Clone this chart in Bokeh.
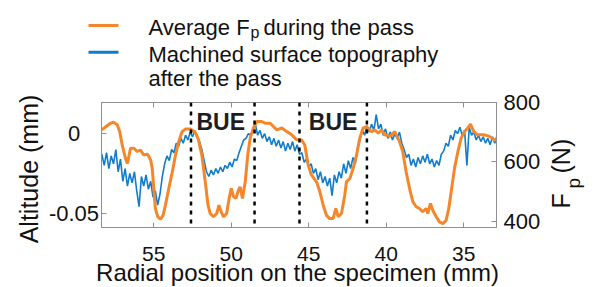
import math
import numpy as np
from bokeh.plotting import figure
from bokeh.layouts import column, row
from bokeh.models import Range1d, LinearAxis, FixedTicker, Span, Label
from bokeh.embed import file_html
from bokeh.resources import INLINE

# ---------------- data ----------------
# machined surface topography (altitude, mm), sampled every 0.15 mm from 58.35 mm
blue_start = 58.35
blue_step = 0.15
blue_alt = [-0.013, -0.020, -0.012, -0.022, -0.014, -0.019, -0.010, -0.024, -0.016, -0.030,
            -0.022, -0.033, -0.025, -0.031, -0.024, -0.036, -0.046, -0.027, -0.033, -0.026,
            -0.035, -0.030, -0.040, -0.036, -0.045, -0.038, -0.027, -0.019, -0.014, -0.017,
            -0.010, -0.012, -0.006, -0.008, -0.003, -0.006, -0.001, -0.004, 0.001, -0.002,
            0.002, -0.002, -0.005, -0.010, -0.017, -0.024, -0.027, -0.023, -0.026, -0.022,
            -0.025, -0.021, -0.024, -0.020, -0.022, -0.018, -0.021, -0.016, -0.017, -0.012,
            -0.008, -0.004, -0.003, 0.000, -0.001, 0.003, 0.006, -0.001, 0.002, -0.003,
            0.000, -0.005, -0.002, -0.007, -0.003, -0.008, -0.004, -0.009, -0.005, -0.011,
            -0.006, -0.010, -0.005, -0.011, -0.007, -0.013, -0.012, -0.018, -0.016, -0.021,
            -0.019, -0.025, -0.022, -0.029, -0.024, -0.031, -0.027, -0.033, -0.028, -0.039,
            -0.026, -0.031, -0.024, -0.028, -0.019, -0.025, -0.017, -0.022, -0.015, -0.019,
            -0.009, -0.004, 0.002, -0.001, 0.005, 0.001, 0.006, 0.002, 0.012, 0.003,
            0.006, -0.001, 0.003, -0.003, 0.001, -0.004, 0.000, -0.003, 0.001, -0.006,
            -0.010, -0.015, -0.013, -0.020, -0.016, -0.021, -0.015, -0.019, -0.014, -0.018,
            -0.013, -0.019, -0.016, -0.021, -0.017, -0.020, -0.013, -0.011, -0.006, -0.008,
            -0.001, -0.004, 0.002, 0.000, 0.004, -0.001, 0.002, -0.020, 0.004, -0.001,
            0.001, -0.004, -0.001, -0.005, -0.002, -0.006, -0.003, -0.007, -0.002, -0.006,
            -0.001]
blue_pos = np.round(blue_start - blue_step * np.arange(len(blue_alt)), 3)

# average Fp during the pass (N)
fp_pos = [58.37, 58.2, 57.8, 57.6, 57.36, 57.2, 57.04, 56.83, 56.7, 56.5, 56.28, 56.07, 55.86,
          55.65, 55.4, 55.2, 55.1, 55.0, 54.9, 54.74, 54.57, 54.4, 54.25, 54.03, 53.8, 53.6,
          53.39, 53.17, 52.95, 52.63, 52.3, 52.12, 51.9, 51.68, 51.5, 51.36, 51.15, 50.94,
          50.8, 50.65, 50.5, 50.3, 50.14, 50.0, 49.86, 49.7, 49.54, 49.43, 49.28, 49.1, 48.94,
          48.78, 48.57, 48.35, 48.03, 47.8, 47.49, 47.28, 47.06, 46.74, 46.42, 46.1, 45.79,
          45.47, 45.26, 45.04, 44.83, 44.5, 44.29, 44.07, 43.86, 43.65, 43.43, 43.26, 43.1,
          42.89, 42.68, 42.57, 42.35, 42.14, 41.92, 41.71, 41.5, 41.28, 40.95, 40.74, 40.52,
          40.3, 40.1, 39.77, 39.45, 39.15, 38.94, 38.72, 38.5, 38.29, 38.07, 37.86, 37.65,
          37.43, 37.32, 37.15, 37.0, 36.78, 36.57, 36.35, 36.14, 35.97, 35.81, 35.6, 35.38,
          35.17, 34.95, 34.74, 34.57, 34.35, 34.1, 33.67, 33.34, 33.02, 32.9]
fp_force = [708, 714, 730, 734, 725, 702, 657, 612, 595, 646, 646, 635, 640,
            623, 626, 606, 578, 511, 443, 415, 407, 420, 454, 511, 567, 623,
            669, 702, 711, 711, 697, 675, 623, 533, 454, 426, 415, 426,
            454, 432, 415, 426, 477, 511, 483, 477, 505, 516, 477, 533, 623,
            680, 714, 736, 736, 730, 730, 719, 708, 714, 702, 691, 675,
            674, 657, 590, 556, 533, 500, 454, 420, 409, 409, 443, 415,
            426, 488, 533, 544, 578, 623, 680, 714, 719, 702, 708, 697,
            708, 691, 686, 702, 669, 635, 567, 511, 466, 449, 443, 432,
            443, 426, 460, 437, 415, 398, 392, 403, 443, 500, 578, 635,
            680, 702, 714, 727, 702, 691, 691, 686, 674, 674]

bue_bounds = [52.6, 48.5, 45.6, 41.25]
bue_label_pos = [52.25, 45.0]
bue_text = "BUE"

x_ticks = [55, 50, 45, 40, 35]
x_tick_labels = ["55", "50", "45", "40", "35"]
left_ticks = [-0.05, 0]
left_tick_labels = ["-0.05", "0"]
right_ticks = [400, 600, 800]

legend_line1 = ["Average F", "p", "during the pass"]
legend_line2 = "Machined surface topography"
legend_line3 = "after the pass"
x_label = "Radial position on the specimen (mm)"
y_label = "Altitude (mm)"
y2_label = ["F", "p", "(N)"]

# ---------------- style / geometry (page pixels) ----------------
FONT = "Liberation Sans"
ORANGE = "#F5862A"
BLUE = "#0F7DCB"
AXC = "#8f8f8f"
TXT = "#111111"

PW, PH = 601, 287
TOP_H = 90                          # legend strip
ROW_B = 237                         # bottom of the plot row
FL, FR, FT, FB = 101, 496, 102, 227  # plot frame on the page
A_W = 44                            # strip holding the y label
T_X1 = 100                          # right edge of left tick-label strip
M_X1 = 545                          # right edge of main figure
X0, X1 = 58.374, 32.89
Y0, Y1 = -0.0591, 0.0196
F0, F1 = 379.0, 800.0
ROT_SHIFT = 12                      # baseline correction for rotated text


def yv(py):
    return Y1 - (py - FT) * (Y1 - Y0) / (FB - FT)


def xv(px):
    return X0 + (px - FL) * (X1 - X0) / (FR - FL)


def no_align(f):
    try:
        f.frame_align = False
    except Exception:
        pass


def bare(width, height, xr, yr):
    f = figure(width=width, height=height, x_range=xr, y_range=yr,
               x_axis_type=None, y_axis_type=None, output_backend="svg",
               toolbar_location=None, min_border=0,
               min_border_left=0, min_border_right=0, min_border_top=0, min_border_bottom=0)
    f.outline_line_color = None
    f.background_fill_color = "white"
    f.border_fill_color = "white"
    no_align(f)
    return f


def text(f, x, y, t, size, angle=0.0, align="left", baseline="alphabetic",
         style="normal", color=TXT):
    f.add_layout(Label(x=x, y=y, text=t, text_font=FONT, text_font_size=size,
                       text_font_style=style, text_color=color, angle=angle,
                       text_align=align, text_baseline=baseline))


def bl(py, size):
    """page baseline -> anchor for horizontal text"""
    return py - 0.22 * size


# ---------- legend strip (page x, y measured up from strip bottom) ----------
top = bare(PW, TOP_H, Range1d(0, PW), Range1d(0, TOP_H))
top.segment(x0=[88], y0=[TOP_H - 25], x1=[118], y1=[TOP_H - 25], line_color=ORANGE, line_width=3)
top.segment(x0=[88], y0=[TOP_H - 51.7], x1=[118], y1=[TOP_H - 51.7], line_color=BLUE, line_width=3)
text(top, 148, TOP_H - bl(32.3, 22), legend_line1[0], "22px")
text(top, 250, TOP_H - bl(35.8, 16), legend_line1[1], "16px")
text(top, 263, TOP_H - bl(32.3, 22), legend_line1[2], "22px")
text(top, 148, TOP_H - bl(58.5, 22), legend_line2, "22px")
text(top, 148, TOP_H - bl(83.3, 22), legend_line3, "22px")

# ---------- main plot ----------
p = figure(width=M_X1 - T_X1, height=ROW_B - TOP_H,
           x_range=Range1d(X0, X1), y_range=Range1d(Y0, Y1),
           output_backend="svg", toolbar_location=None,
           min_border_left=FL - T_X1, min_border_right=M_X1 - FR,
           min_border_top=FT - TOP_H, min_border_bottom=ROW_B - FB)
no_align(p)
p.extra_y_ranges = {"fp": Range1d(F0, F1)}
p.grid.visible = False
p.outline_line_color = AXC
p.background_fill_color = "white"
p.border_fill_color = "white"


def style_axis(ax, ticks, show_labels=True, standoff=5):
    ax.ticker = FixedTicker(ticks=ticks)
    ax.axis_line_color = AXC
    ax.major_tick_line_color = AXC
    ax.major_tick_in = 5
    ax.major_tick_out = 0
    ax.minor_tick_line_color = None
    ax.major_label_text_font = FONT
    ax.major_label_standoff = standoff
    if show_labels:
        ax.major_label_text_font_size = "22px"
        ax.major_label_text_color = TXT
    else:
        ax.major_label_overrides = {t: "" for t in ticks}
        ax.major_label_text_font_size = "0px"
        ax.major_label_text_color = None


style_axis(p.xaxis[0], x_ticks, False, 0)
style_axis(p.yaxis[0], left_ticks, False, 0)
right = LinearAxis(y_range_name="fp")
style_axis(right, right_ticks, True, 7)
p.add_layout(right, "right")
topax = LinearAxis()
style_axis(topax, x_ticks, False, 0)
p.add_layout(topax, "above")

p.line(blue_pos, blue_alt, line_color=BLUE, line_width=1.6)
p.line(fp_pos, fp_force, line_color=ORANGE, line_width=3, y_range_name="fp")

for b in bue_bounds:
    p.add_layout(Span(location=b, dimension="height", line_color="black",
                      line_width=2.5, line_dash="4 5"))
for bx in bue_label_pos:
    text(p, bx, yv(bl(127, 23)), bue_text, "23px", style="bold", color="#1e1e1e")

# ---------- y-label strip ----------
ystrip = bare(A_W, PH - TOP_H, Range1d(0, A_W), Range1d(0, PH - TOP_H))
text(ystrip, 40 - ROT_SHIFT, PH - 168.5, y_label, "25px", angle=math.pi / 2, align="center")

# ---------- left tick-label strip (same vertical scale as the plot) ----------
ticks_l = bare(T_X1 - A_W, ROW_B - TOP_H, Range1d(A_W, T_X1), Range1d(yv(ROW_B), yv(TOP_H)))
for v, t in zip(left_ticks, left_tick_labels):
    text(ticks_l, 73.5, v, t, "22px", align="center", baseline="middle")

# ---------- right strip: Fp (N) ----------
rgt = bare(PW - M_X1, ROW_B - TOP_H, Range1d(M_X1, PW), Range1d(0, ROW_B - TOP_H))
text(rgt, 572 - ROT_SHIFT, ROW_B - 208, y2_label[0], "25px", angle=math.pi / 2)
text(rgt, 585 - ROT_SHIFT, ROW_B - 188, y2_label[1], "19px", angle=math.pi / 2)
text(rgt, 572 - ROT_SHIFT, ROW_B - 173, y2_label[2], "25px", angle=math.pi / 2)

# ---------- bottom strip: x tick labels and x label (same horizontal scale) ----------
bottom = bare(PW - A_W, PH - ROW_B, Range1d(xv(A_W), xv(PW)), Range1d(0, PH - ROW_B))
for v, t in zip(x_ticks, x_tick_labels):
    text(bottom, v, PH - bl(258.3, 21), t, "21px", align="center")
text(bottom, xv(297), PH - bl(277, 24), x_label, "24px", align="center")

layout = column(top,
                row(ystrip, column(row(ticks_l, p, rgt, spacing=0), bottom, spacing=0), spacing=0),
                spacing=0)
open("out.html", "w").write(file_html(layout, INLINE))
